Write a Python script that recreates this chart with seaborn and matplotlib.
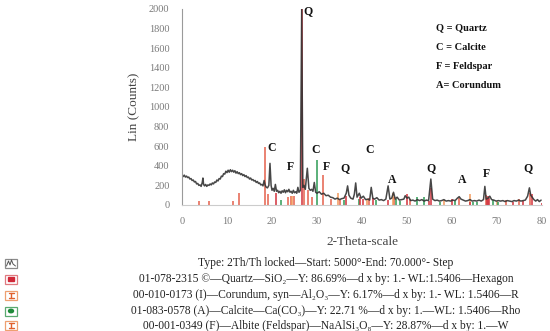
import matplotlib
matplotlib.use("Agg")
import matplotlib.pyplot as plt
import matplotlib.patches as mpatches
import seaborn as sns
import pandas as pd

theta = [0.00, 0.25, 0.50, 0.75, 1.00, 1.25, 1.50, 1.75, 2.00, 2.25, 2.50, 2.75,
         3.00, 3.25, 3.50, 3.75, 4.00, 4.25, 4.50, 4.65, 4.80, 5.00, 5.25, 5.50,
         5.75, 6.00, 6.25, 6.50, 6.75, 7.00, 7.25, 7.50, 7.75, 8.00, 8.25, 8.50,
         8.75, 9.00, 9.25, 9.50, 9.75, 10.00, 10.25, 10.50, 10.75, 11.00, 11.25,
         11.50, 11.75, 12.00, 12.25, 12.50, 12.75, 13.00, 13.25, 13.50, 13.75,
         14.00, 14.25, 14.50, 14.75, 15.00, 15.25, 15.50, 15.75, 16.00, 16.25,
         16.50, 16.75, 17.00, 17.25, 17.50, 17.75, 18.00, 18.25, 18.50, 18.75,
         19.00, 19.30, 19.55, 19.80, 20.00, 20.25, 20.50, 20.75, 21.00, 21.25,
         21.50, 21.75, 22.00, 22.25, 22.50, 22.75, 23.00, 23.25, 23.50, 23.75,
         24.00, 24.25, 24.50, 24.75, 25.00, 25.25, 25.50, 25.75, 26.00, 26.30,
         26.60, 26.85, 27.10, 27.40, 27.85, 28.20, 28.50, 28.80, 29.10, 29.40,
         29.70, 30.00, 30.50, 31.00, 31.50, 32.00, 32.50, 33.00, 33.50, 34.00,
         34.50, 35.00, 35.50, 36.00, 36.50, 36.80, 37.10, 37.50, 38.00, 38.30,
         38.60, 38.90, 39.40, 39.80, 40.30, 40.80, 41.30, 41.70, 42.05, 42.40,
         42.80, 43.30, 43.80, 44.30, 44.80, 45.30, 45.80, 46.20, 46.60, 47.00,
         47.40, 47.80, 48.30, 48.80, 49.30, 49.60, 50.00, 50.40, 50.80, 51.30,
         51.80, 52.30, 52.80, 53.30, 53.80, 54.30, 54.80, 55.30, 55.70, 56.20,
         56.70, 57.20, 57.70, 58.20, 58.70, 59.20, 59.70, 60.20, 60.70, 61.20,
         61.60, 62.00, 62.50, 63.00, 63.50, 64.00, 64.50, 65.00, 65.50, 66.00,
         66.50, 67.00, 67.30, 67.60, 68.00, 68.40, 68.80, 69.30, 69.80, 70.30,
         70.80, 71.30, 71.80, 72.30, 72.80, 73.30, 73.80, 74.30, 74.80, 75.30,
         75.80, 76.30, 76.80, 77.20, 77.50, 77.80, 78.20, 78.60, 79.00, 79.40,
         79.80]
counts = [300, 290, 305, 285, 295, 280, 285, 265, 270, 250, 255, 235,
          240, 215, 220, 200, 205, 190, 230, 275, 210, 195, 210, 190,
          205, 200, 215, 205, 225, 215, 235, 230, 255, 245, 270, 265,
          295, 290, 320, 315, 345, 330, 355, 335, 360, 340, 355,
          335, 350, 325, 340, 320, 330, 310, 320, 300, 310,
          290, 300, 280, 285, 265, 275, 255, 260, 245, 250,
          230, 240, 220, 225, 205, 210, 195, 250, 200, 180,
          175, 200, 425, 200, 150, 170, 140, 210, 140, 150,
          125, 140, 120, 145, 130, 155, 125, 150, 135, 160,
          130, 140, 120, 150, 125, 135, 120, 180, 130, 150,
          2000, 180, 200, 160, 375, 170, 150, 160, 140, 230,
          130, 120, 135, 110, 120, 95, 100, 80, 75, 60,
          70, 55, 65, 70, 120, 195, 100, 70, 60, 110,
          225, 80, 120, 70, 90, 55, 60, 50, 180, 70,
          60, 75, 50, 55, 45, 60, 195, 60, 70, 130,
          60, 80, 50, 55, 60, 95, 70, 80, 45, 50,
          40, 55, 45, 55, 40, 50, 45, 265, 60, 45,
          50, 40, 45, 55, 40, 45, 40, 50, 45, 70,
          85, 60, 50, 40, 45, 55, 40, 45, 40, 50,
          40, 55, 190, 60, 70, 90, 55, 50, 40, 45,
          40, 45, 35, 45, 40, 35, 45, 40, 50, 40,
          45, 50, 90, 175, 100, 80, 55, 40, 55, 35,
          50]

# reference stick patterns
quartz_theta = [20.9, 26.6, 36.5, 39.5, 40.3, 42.5, 45.8, 50.1, 54.9, 55.3,
                59.9, 64.0, 67.7, 68.1, 68.3, 73.5, 75.7, 77.7, 79.9]
quartz_height = [120, 2000, 90, 80, 60, 70, 50, 110, 40, 170,
                 60, 30, 60, 90, 70, 30, 40, 110, 20]
corundum_theta = [24.5, 34.6, 41.0, 46.9, 58.2, 64.1, 70.0]
corundum_height = [90, 125, 60, 125, 50, 115, 40]
calcite_theta = [22.1, 29.9, 36.0, 39.4, 43.2, 47.5, 48.5, 52.3, 53.8, 57.4,
                 60.7, 64.7, 65.6, 69.2, 70.3]
calcite_height = [55, 460, 50, 60, 50, 60, 40, 80, 80, 30,
                  40, 30, 30, 50, 30]
albite_theta = [3.8, 6.0, 11.4, 12.6, 18.5, 19.2, 23.6, 24.3, 24.9, 27.0,
                27.9, 28.8, 31.3, 33.0, 35.0, 41.5, 47.2, 50.6, 61.5, 67.5,
                72.0, 74.9, 77.4]
albite_height = [40, 40, 40, 125, 590, 110, 80, 90, 90, 265,
                 150, 80, 310, 60, 50, 70, 80, 60, 75, 100,
                 50, 60, 120]

# peak labels
label_text = ["Q", "C", "F", "C", "F", "Q", "C", "A", "Q", "A", "F", "Q"]
label_theta = [28.0, 19.9, 24.0, 29.6, 32.1, 36.2, 41.6, 46.8, 55.3, 62.2, 67.6, 77.0]
label_counts = [1975, 580, 390, 565, 390, 380, 565, 255, 380, 255, 320, 380]

key_lines = ["Q = Quartz", "C = Calcite", "F = Feldspar", "A= Corundum"]
key_counts = [1805, 1610, 1410, 1215]

legend_lines = [
    "Type: 2Th/Th locked\u2014Start: 5000\u00b0-End: 70.000\u00b0- Step",
    "01-078-2315 \u00a9\u2014Quartz\u2014SiO\u2082\u2014Y: 86.69%\u2014d x by: 1.- WL:1.5406\u2014Hexagon",
    "00-010-0173 (I)\u2014Corundum, syn\u2014Al\u2082O\u2083\u2014Y: 6.17%\u2014d x by: 1.- WL: 1.5406\u2014R",
    "01-083-0578 (A)\u2014Calcite\u2014Ca(CO\u2083)\u2014Y: 22.71 %\u2014d x by: 1.\u2014WL: 1.5406\u2014Rho",
    "00-001-0349 (F)\u2014Albite (Feldspar)\u2014NaAlSi\u2083O\u2088\u2014Y: 28.87%\u2014d x by: 1.\u2014W",
]

sns.set_theme(style="white")
plt.rcParams["font.family"] = ["Liberation Serif", "DejaVu Serif"]

c_quartz = "#d2323c"
c_corundum = "#f29a5c"
c_calcite = "#2e9b55"
c_albite = "#e4604c"

fig = plt.figure(figsize=(5.5, 3.31), dpi=100)
ax = fig.add_axes([182 / 550, 1 - 205 / 331, 360 / 550, 196 / 331])

ax.vlines(albite_theta, 0, albite_height, color=c_albite, lw=1.1)
ax.vlines(corundum_theta, 0, corundum_height, color=c_corundum, lw=1.1)
ax.vlines(calcite_theta, 0, calcite_height, color=c_calcite, lw=1.1)
ax.vlines(quartz_theta, 0, quartz_height, color=c_quartz, lw=1.1)

df = pd.DataFrame({"theta": theta, "counts": counts})
sns.lineplot(data=df, x="theta", y="counts", ax=ax, color="#333333", lw=1.1,
             estimator=None, sort=False, alpha=0.9)

ax.set_xlim(0, 80)
ax.set_ylim(0, 2000)
ax.set_xticks(range(0, 81, 10))
ax.set_yticks(range(0, 2001, 200))
ax.tick_params(length=0, labelsize=7.5, labelcolor="#7a7a7a")
ax.tick_params(axis="x", pad=9)
ax.tick_params(axis="y", pad=9)
for s in ["top", "right"]:
    ax.spines[s].set_visible(False)
ax.spines["left"].set_color("#9a9a9a")
ax.spines["bottom"].set_color("#cccccc")
ax.spines["left"].set_linewidth(0.8)
ax.spines["bottom"].set_linewidth(0.8)
ax.set_xlabel("2-Theta-scale", fontsize=9.5, color="#444444", labelpad=7)
ax.set_ylabel("Lin (Counts)", fontsize=9.5, color="#444444", labelpad=6)

for t, x, y in zip(label_text, label_theta, label_counts):
    ax.text(x, y, t, fontsize=8.5, fontweight="bold", ha="center", va="center", color="#111111")
for t, y in zip(key_lines, key_counts):
    ax.text(56.4, y, t, fontsize=7.5, fontweight="bold", ha="left", va="center", color="#111111")

# overlay in pixel coordinates for the phase list under the chart
ov = fig.add_axes([0, 0, 1, 1])
ov.set_xlim(0, 550)
ov.set_ylim(331, 0)
ov.axis("off")
ov.patch.set_alpha(0)

rows_y = [263, 279, 295, 311, 325.5]
for t, y in zip(legend_lines, rows_y):
    ov.text(326, y, t, fontsize=8.3, ha="center", va="center", color="#222222")

icon_edge = ["#8a8a8a", "#e07a80", "#eea070", "#5aaa70", "#eea070"]
for i, (y, ec) in enumerate(zip(rows_y, icon_edge)):
    ov.add_patch(mpatches.Rectangle((5, y - 4.5), 12, 9, fill=True, fc="white", ec=ec, lw=0.9))
    if i == 0:
        ov.plot([6.5, 8.5, 10, 11.5, 13, 15.5], [y + 3, y - 2, y + 2, y - 3, y + 1, y + 3],
                color="#555555", lw=0.7)
    elif i == 1:
        ov.add_patch(mpatches.Rectangle((8, y - 2), 6, 4, color="#d02838"))
    elif i == 3:
        ov.add_patch(mpatches.Ellipse((11, y), 5, 3.5, color="#1f8a3a"))
    else:
        ov.plot([8.5, 13.5], [y - 2.5, y - 2.5], color="#e0602c", lw=1.0)
        ov.plot([8.5, 13.5], [y + 2.5, y + 2.5], color="#e0602c", lw=1.0)
        ov.plot([11, 11], [y - 2.5, y + 2.5], color="#e0602c", lw=1.0)

fig.savefig("out.png", dpi=100)
